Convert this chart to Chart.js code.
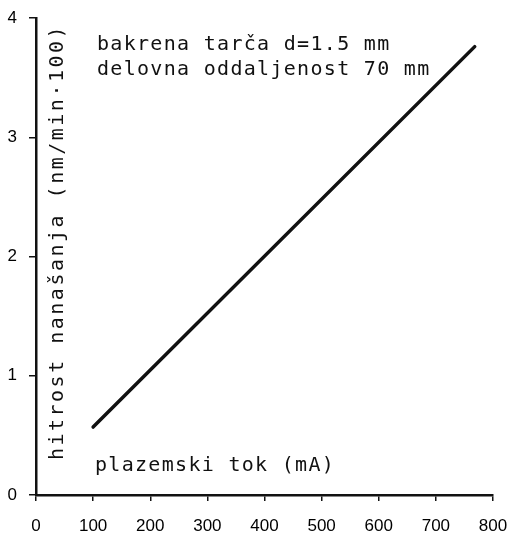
<!DOCTYPE html>
<html>
<head>
<meta charset="utf-8">
<script src="https://cdn.jsdelivr.net/npm/chart.js@4"></script>
<style>
  html, body { margin: 0; padding: 0; background: #fff; }
  #wrap { width: 509px; height: 533px; }
</style>
</head>
<body>
<div id="wrap"><canvas id="rateChart"></canvas></div>
<script>
// plasma current (mA) vs. deposition rate (nm/min*100)
const plasmaCurrent = [100, 768];
const depositionRate = [0.57, 3.76];
const xTicks = [0, 100, 200, 300, 400, 500, 600, 700, 800];
const yTicks = [0, 1, 2, 3, 4];

const noteLines = ['bakrena tarča d=1.5 mm', 'delovna oddaljenost 70 mm'];
const yTitle = 'hitrost nanašanja (nm/min·100)';
const xTitle = 'plazemski tok (mA)';

const monoFont = '"DejaVu Sans Mono", "Liberation Mono", monospace';

const textPlugin = {
  id: 'typedText',
  afterDraw(chart) {
    const ctx = chart.ctx;
    const area = chart.chartArea;
    ctx.save();
    ctx.fillStyle = '#111';
    ctx.font = '20px ' + monoFont;
    ctx.letterSpacing = '1.3px';
    ctx.textBaseline = 'middle';
    ctx.textAlign = 'left';
    ctx.fillText(noteLines[0], area.left + 61, area.top + 27);
    ctx.fillText(noteLines[1], area.left + 61, area.top + 52);
    ctx.fillText(xTitle, area.left + 59, area.bottom - 29);

    ctx.translate(area.left + 22, area.top + 224);
    ctx.rotate(-Math.PI / 2);
    ctx.textAlign = 'center';
    ctx.letterSpacing = '2.5px';
    ctx.fillText(yTitle, 0, 0);
    ctx.restore();
  }
};

const ctx = document.getElementById('rateChart').getContext('2d');
new Chart(ctx, {
  type: 'scatter',
  data: {
    datasets: [{
      data: plasmaCurrent.map((x, i) => ({ x: x, y: depositionRate[i] })),
      showLine: true,
      borderColor: '#111',
      borderWidth: 3.5,
      borderCapStyle: 'round',
      pointRadius: 0,
      pointHoverRadius: 0
    }]
  },
  options: {
    responsive: true,
    maintainAspectRatio: false,
    animation: false,
    layout: { padding: { left: 0, right: 16, top: 18, bottom: 0 } },
    plugins: {
      legend: { display: false },
      tooltip: { enabled: false }
    },
    scales: {
      x: {
        type: 'linear',
        min: 0,
        max: 800,
        afterBuildTicks: scale => { scale.ticks = xTicks.map(v => ({ value: v })); },
        afterFit: scale => {
          scale.height = 38;
          scale.paddingLeft = 0;
          scale.paddingRight = 0;
        },
        grid: { drawOnChartArea: false, drawTicks: true, tickLength: 6, color: '#111', lineWidth: 1.5 },
        border: { color: '#111', width: 2.5 },
        ticks: {
          color: '#000',
          padding: 15,
          maxRotation: 0,
          font: { family: '"Liberation Sans", Arial, sans-serif', size: 17 }
        }
      },
      y: {
        type: 'linear',
        min: 0,
        max: 4,
        afterBuildTicks: scale => { scale.ticks = yTicks.map(v => ({ value: v })); },
        afterFit: scale => {
          scale.width = 36;
          scale.paddingTop = 0;
          scale.paddingBottom = 0;
        },
        grid: { drawOnChartArea: false, drawTicks: true, tickLength: 7, color: '#111', lineWidth: 1.5 },
        border: { color: '#111', width: 2.5 },
        ticks: {
          color: '#000',
          padding: 12,
          font: { family: '"Liberation Sans", Arial, sans-serif', size: 17 }
        }
      }
    }
  },
  plugins: [textPlugin]
});
</script>
</body>
</html>
